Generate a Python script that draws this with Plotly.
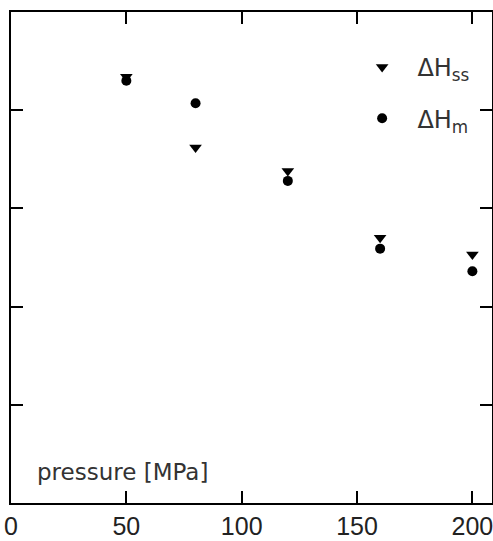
import plotly.graph_objects as go

# Data (y in axis units, 5 major divisions)
pressure = [50, 80, 120, 160, 200]
dH_ss = [4.34, 3.62, 3.38, 2.70, 2.53]
dH_m = [4.30, 4.07, 3.28, 2.59, 2.36]
x_ticks = [0, 50, 100, 150, 200]
y_ticks = [0, 1, 2, 3, 4, 5]

fig = go.Figure()
fig.add_trace(go.Scatter(
    x=pressure, y=dH_ss, mode="markers", name="  ΔH<sub>ss</sub>",
    legendgroup="ss",
    marker=dict(symbol="triangle-down", size=11, color="black"),
))
fig.add_trace(go.Scatter(
    x=pressure, y=dH_m, mode="markers", name="  ΔH<sub>m</sub>",
    legendgroup="m",
    marker=dict(symbol="circle", size=10, color="black"),
))

axis_common = dict(
    showline=True, linecolor="black", linewidth=1.5, mirror="ticks",
    ticks="inside", ticklen=12, tickwidth=1.5, tickcolor="black",
    showgrid=False, zeroline=False, automargin=False,
)
fig.update_xaxes(range=[0, 208.5], tickvals=x_ticks,
                 ticklabeloverflow="allow",
                 tickfont=dict(family="Liberation Sans", size=25, color="#222"),
                 **axis_common)
fig.update_yaxes(range=[0, 5], tickvals=y_ticks, showticklabels=False,
                 **axis_common)

fig.add_annotation(
    text="pressure [MPa]", xref="paper", yref="paper",
    x=0.05, y=0.063, xanchor="left", yanchor="middle", showarrow=False,
    font=dict(family="DejaVu Sans", size=23, color="#333"),
)

fig.update_layout(
    width=493, height=541,
    margin=dict(l=11, r=1, t=12, b=38),
    paper_bgcolor="white", plot_bgcolor="white",
    showlegend=True,
    legend=dict(x=0.73, y=0.933, xanchor="left", yanchor="top",
                bgcolor="rgba(0,0,0,0)", tracegroupgap=17,
                font=dict(family="DejaVu Sans", size=24, color="#333")),
)

fig.write_html("out.html", config={"displayModeBar": False},
               post_script="document.body.style.margin='0px';")
